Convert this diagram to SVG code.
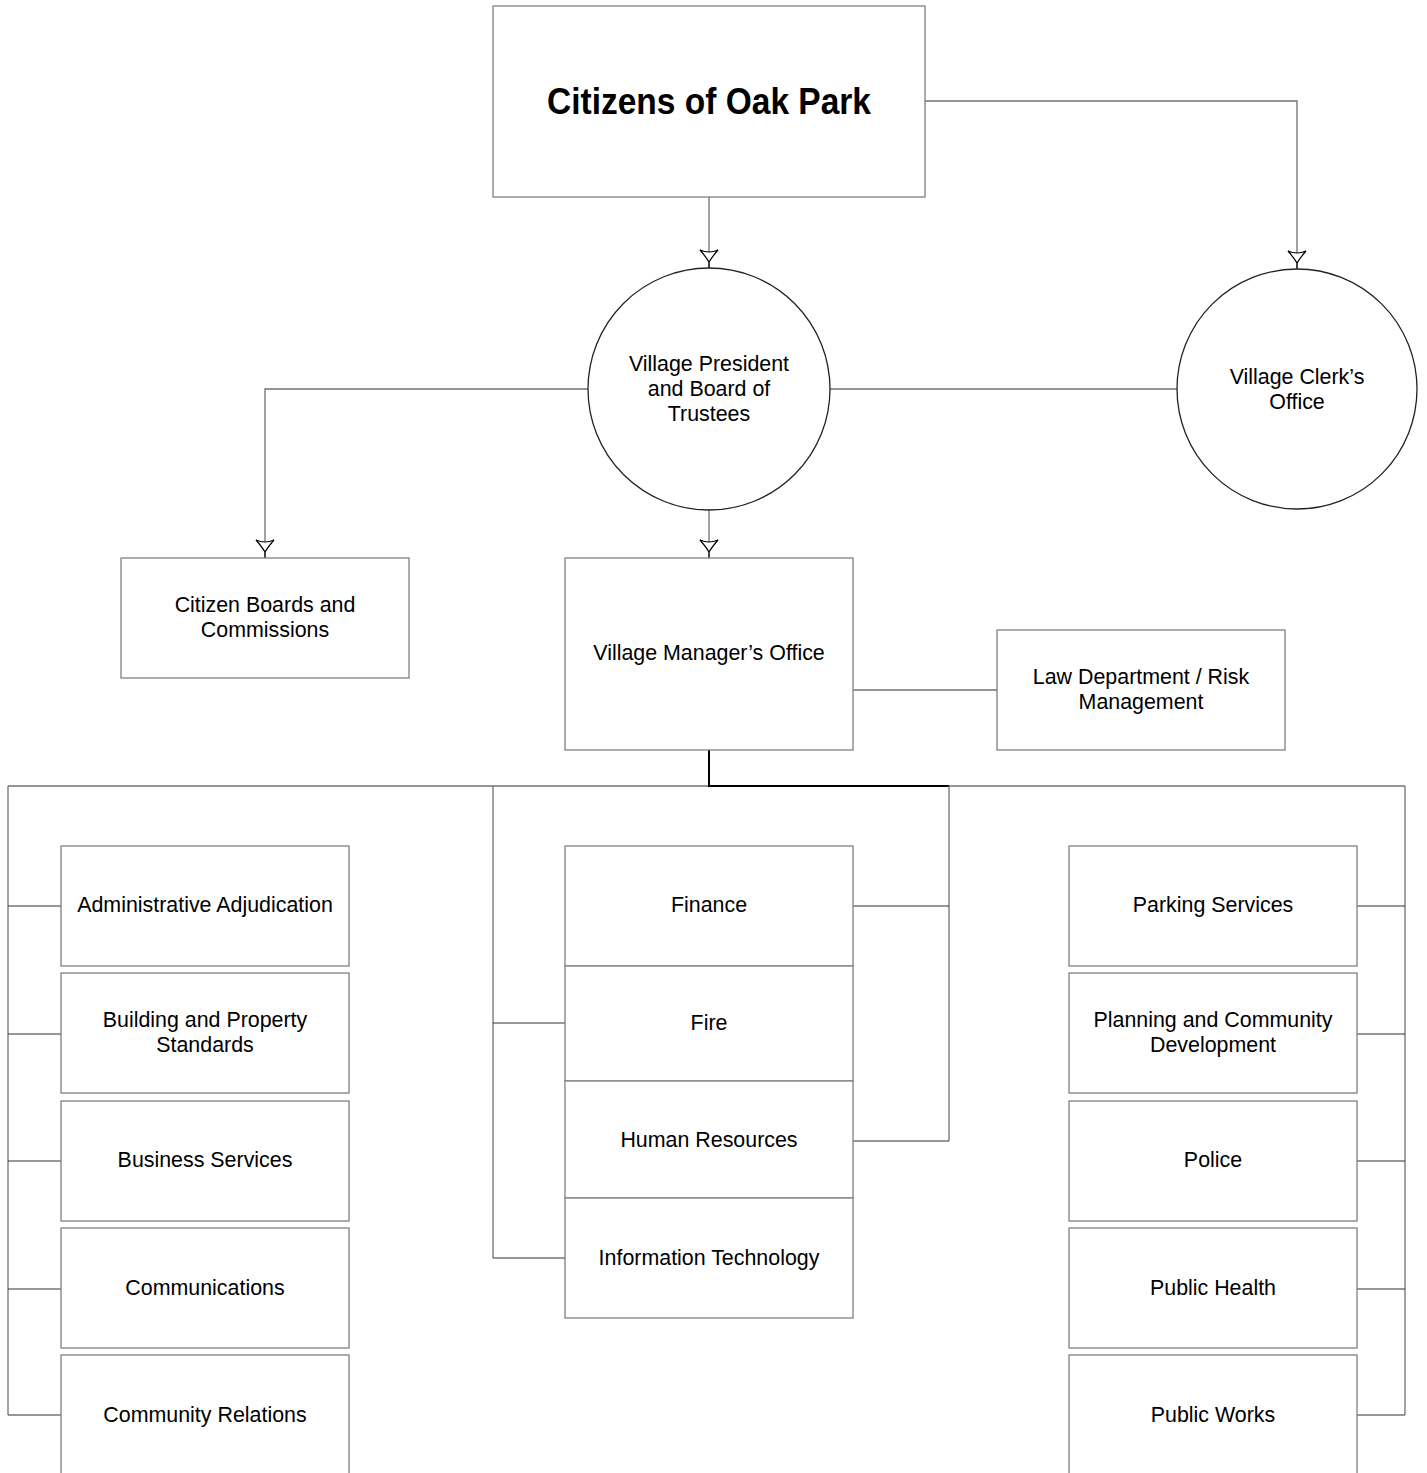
<svg xmlns="http://www.w3.org/2000/svg" width="1427" height="1473" viewBox="0 0 1427 1473">
<style>
.box{fill:#fff;stroke:#808080;stroke-width:1.3}
.circ{fill:#fff;stroke:#222;stroke-width:1.3}
.t{font-family:"Liberation Sans",Arial,sans-serif;font-size:21.4px;fill:#000;text-anchor:middle}
.title{font-family:"Liberation Sans",Arial,sans-serif;font-size:37px;font-weight:bold;fill:#000;text-anchor:middle}
.c{fill:none;stroke:#707070;stroke-width:1.3}
.cd{fill:none;stroke:#303030;stroke-width:1.1}
.ck{fill:none;stroke:#000;stroke-width:2}
</style>
<defs>
<marker id="arr" markerUnits="userSpaceOnUse" viewBox="-20 -11 22 22" refX="0" refY="0" markerWidth="22" markerHeight="22" orient="auto">
<path d="M0,0 L-6,0 Q-11,-3 -18,-9 Q-14,0 -18,9 Q-11,3 -6,0 Z" fill="#fff" stroke="#000" stroke-width="1.2"/>
</marker>
</defs>
<g id="connectors">
<path class="c" d="M709,197 V268" marker-end="url(#arr)"/>
<path class="c" d="M925,101 H1297 V269" marker-end="url(#arr)"/>
<path class="c" d="M588,389 H265 V558" marker-end="url(#arr)"/>
<path class="c" d="M829,389 H1177"/>
<path class="c" d="M709,510 V558" marker-end="url(#arr)"/>
<path class="c" d="M853,690 H997"/>
<path class="c" d="M8,786 H1405"/>
<path class="ck" d="M709,750 V786 H949"/>
<path class="c" d="M8,786 V1415"/>
<path class="cd" d="M8,906 H61 M8,1034 H61 M8,1161 H61 M8,1289 H61 M8,1415 H61"/>
<path class="c" d="M1405,786 V1415"/>
<path class="cd" d="M1357,906 H1405 M1357,1034 H1405 M1357,1161 H1405 M1357,1289 H1405 M1357,1415 H1405"/>
<path class="c" d="M493,786 V1258"/>
<path class="cd" d="M493,1023 H565 M493,1258 H565"/>
<path class="c" d="M949,786 V1141"/>
<path class="cd" d="M853,906 H949 M853,1141 H949"/>
</g>
<g id="citizens"><rect class="box" x="493" y="6" width="432" height="191"/><text class="title" x="709" y="114" textLength="324" lengthAdjust="spacingAndGlyphs">Citizens of Oak Park</text></g>
<g id="president"><circle class="circ" cx="709" cy="389" r="121"/><text class="t" x="709" y="371">Village President</text><text class="t" x="709" y="396">and Board of</text><text class="t" x="709" y="421">Trustees</text></g>
<g id="clerk"><circle class="circ" cx="1297" cy="389" r="120"/><text class="t" x="1297" y="384">Village Clerk’s</text><text class="t" x="1297" y="409">Office</text></g>
<g id="boards"><rect class="box" x="121" y="558" width="288" height="120"/><text class="t" x="265" y="612">Citizen Boards and</text><text class="t" x="265" y="637">Commissions</text></g>
<g id="manager"><rect class="box" x="565" y="558" width="288" height="192"/><text class="t" x="709" y="660">Village Manager’s Office</text></g>
<g id="law"><rect class="box" x="997" y="630" width="288" height="120"/><text class="t" x="1141" y="684">Law Department / Risk</text><text class="t" x="1141" y="709">Management</text></g>
<g id="adjudication"><rect class="box" x="61" y="846" width="288" height="120"/><text class="t" x="205" y="912">Administrative Adjudication</text></g>
<g id="building"><rect class="box" x="61" y="973" width="288" height="120"/><text class="t" x="205" y="1027">Building and Property</text><text class="t" x="205" y="1052">Standards</text></g>
<g id="business"><rect class="box" x="61" y="1101" width="288" height="120"/><text class="t" x="205" y="1167">Business Services</text></g>
<g id="communications"><rect class="box" x="61" y="1228" width="288" height="120"/><text class="t" x="205" y="1295">Communications</text></g>
<g id="community"><rect class="box" x="61" y="1355" width="288" height="125"/><text class="t" x="205" y="1422">Community Relations</text></g>
<g id="finance"><rect class="box" x="565" y="846" width="288" height="120"/><text class="t" x="709" y="912">Finance</text></g>
<g id="fire"><rect class="box" x="565" y="966" width="288" height="115"/><text class="t" x="709" y="1030">Fire</text></g>
<g id="hr"><rect class="box" x="565" y="1081" width="288" height="117"/><text class="t" x="709" y="1147">Human Resources</text></g>
<g id="it"><rect class="box" x="565" y="1198" width="288" height="120"/><text class="t" x="709" y="1265">Information Technology</text></g>
<g id="parking"><rect class="box" x="1069" y="846" width="288" height="120"/><text class="t" x="1213" y="912">Parking Services</text></g>
<g id="planning"><rect class="box" x="1069" y="973" width="288" height="120"/><text class="t" x="1213" y="1027">Planning and Community</text><text class="t" x="1213" y="1052">Development</text></g>
<g id="police"><rect class="box" x="1069" y="1101" width="288" height="120"/><text class="t" x="1213" y="1167">Police</text></g>
<g id="health"><rect class="box" x="1069" y="1228" width="288" height="120"/><text class="t" x="1213" y="1295">Public Health</text></g>
<g id="works"><rect class="box" x="1069" y="1355" width="288" height="125"/><text class="t" x="1213" y="1422">Public Works</text></g>
</svg>
